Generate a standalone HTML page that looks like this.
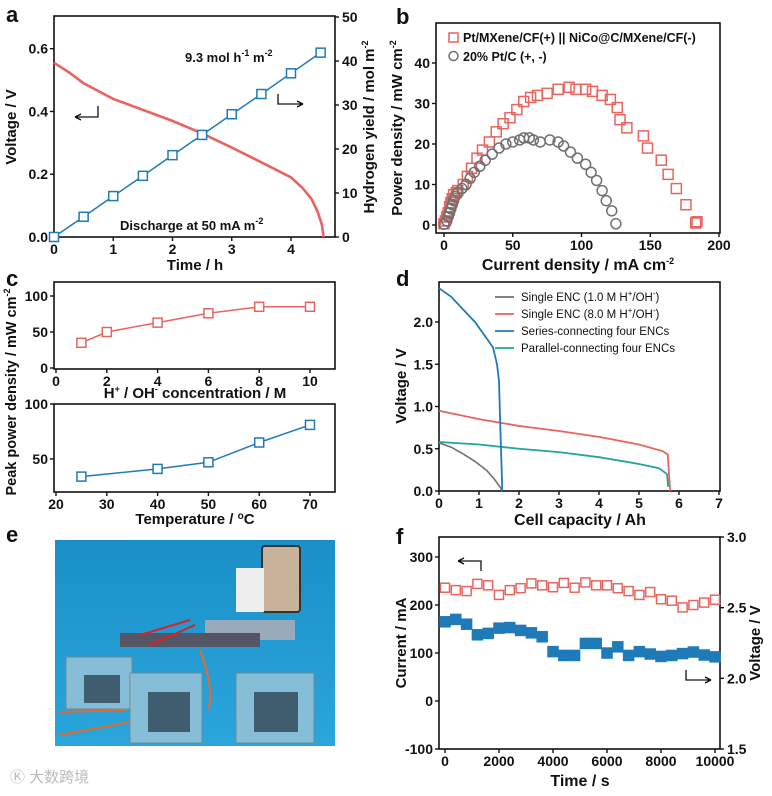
<!DOCTYPE html>
<html><head><meta charset="utf-8"><style>
body{margin:0;background:#fff;}
svg{display:block;font-family:"Liberation Sans",Arial,sans-serif;}
text{font-weight:bold;fill:#111;}
</style></head><body>
<svg id="fig" width="772" height="796" viewBox="0 0 772 796">
<g font-size="22">
<text x="6" y="22">a</text>
<text x="396" y="24">b</text>
<text x="6" y="286">c</text>
<text x="396" y="286">d</text>
<text x="6" y="542">e</text>
<text x="396" y="544">f</text>
</g>
<g>
<defs><linearGradient id="bg" x1="0" y1="0" x2="0" y2="1"><stop offset="0" stop-color="#1a8fc8"/><stop offset="1" stop-color="#2aa6dc"/></linearGradient></defs>
<rect x="55" y="540" width="280" height="206" fill="url(#bg)"/>
<rect x="262" y="546" width="38" height="66" rx="3" fill="#c9b29a" stroke="#333" stroke-width="2"/>
<rect x="236" y="568" width="28" height="44" fill="#eee"/>
<rect x="205" y="620" width="90" height="20" fill="#9ab"/>
<rect x="120" y="633" width="140" height="14" fill="#556"/>
<g fill="#9fc4d6" fill-opacity="0.8" stroke="#6a8a99">
<rect x="66" y="657" width="66" height="52"/>
<rect x="130" y="673" width="72" height="70"/>
<rect x="236" y="673" width="78" height="70"/>
</g>
<g fill="#3e5e70"><rect x="84" y="675" width="36" height="28"/><rect x="148" y="692" width="42" height="40"/><rect x="254" y="692" width="44" height="40"/></g>
<path d="M140 635 L190 620 M150 645 L195 625" stroke="#d22" stroke-width="2"/>
<path d="M200 650 Q215 690 208 710 M60 735 L130 722 M60 712 L125 710" stroke="#e66a2a" stroke-width="2" fill="none"/>
</g>
<text x="10" y="782" font-size="15" style="fill:#bbb;font-weight:normal;font-family:'Liberation Sans','Noto Sans CJK SC',sans-serif">Ⓚ 大数跨境</text>
</svg>
<script>
// ---- panel a data ----
const aTime=[0,0.25,0.5,1,1.5,2,2.5,3,3.5,4,4.2,4.35,4.45,4.52,4.55];
const aVolt=[0.555,0.525,0.49,0.44,0.405,0.37,0.33,0.285,0.238,0.19,0.155,0.12,0.08,0.04,0];
const aYieldT=[0,0.5,1,1.5,2,2.5,3,3.5,4,4.5];
const aYield=[0,4.6,9.3,13.9,18.6,23.2,27.9,32.5,37.2,41.9];
// ---- panel b data ----
const bRedX=[0,1,2,3,4,5,6,7,9,10,14,17,20,24,28,33,38,43,48,53,58,63,68,75,83,91,96,103,108,115,121,126,128,133,145,148,158,163,169,176,183,184];
const bRedY=[0.3,1,2,3,4.5,5.5,6.5,7.5,8,8.5,10,12,14,16.5,18.5,20.5,23,25,26.5,28.5,30.5,31.5,32,32.5,33.5,34,33.5,33.5,33,32,31,29,26,24,22,19,16,12.5,9,5,0.5,0.8];
const bGreyX=[0,2,3,4,5,6,7,8,10,13,16,19,22,26,30,35,40,45,50,55,58,62,65,70,77,83,87,92,97,103,107,111,115,118,122,125];
const bGreyY=[0.2,1,2,3,4,5,6,7,8,9,10,11.5,13,14.5,16,17.5,19,20,20.5,21,21.5,21.5,21,20.5,21,20.5,19.5,18,16.5,15,13,11,8.5,6,3.5,0.3];
// ---- panel c data ----
const cConc=[1,2,4,6,8,10];
const cConcP=[35,50,63,76,85,85];
const cTemp=[25,40,50,60,70];
const cTempP=[34,41,47,65,81];
// ---- panel d data ----
const dGreyX=[0,0.3,0.6,0.9,1.2,1.4,1.55,1.57];
const dGreyY=[0.57,0.52,0.44,0.35,0.24,0.13,0.03,0];
const dRedX=[0,1,2,3,4,5,5.6,5.72,5.75,5.78];
const dRedY=[0.95,0.85,0.77,0.71,0.64,0.55,0.47,0.43,0.2,0];
const dBlueX=[0,0.3,0.6,0.9,1.2,1.35,1.45,1.5,1.53,1.57,1.58];
const dBlueY=[2.4,2.3,2.15,2.0,1.8,1.7,1.5,1.3,0.8,0.2,0];
const dTealX=[0,1,2,3,4,5,5.5,5.7,5.73];
const dTealY=[0.58,0.55,0.5,0.46,0.4,0.32,0.27,0.2,0.05];
// ---- panel f data ----
const fTime=[0,400,800,1200,1600,2000,2400,2800,3200,3600,4000,4400,4800,5200,5600,6000,6400,6800,7200,7600,8000,8400,8800,9200,9600,10000];
const fCurrent=[236,231,229,244,241,221,231,235,245,241,237,246,236,247,241,241,235,229,221,227,212,209,195,200,205,211];
const fVoltage=[2.400,2.417,2.383,2.308,2.318,2.355,2.359,2.339,2.322,2.294,2.189,2.162,2.162,2.247,2.247,2.179,2.223,2.162,2.189,2.172,2.155,2.162,2.175,2.186,2.165,2.152];

const NS='http://www.w3.org/2000/svg';
const svg=document.getElementById('fig');
function mk(tag,attrs,parent,txt){const e=document.createElementNS(NS,tag);for(const k in attrs)e.setAttribute(k,attrs[k]);if(txt!==undefined)e.textContent=txt;(parent||svg).appendChild(e);return e;}
function lin(d0,d1,r0,r1){return v=>r0+(v-d0)*(r1-r0)/(d1-d0);}
function box(x0,y0,x1,y1,name){const r=mk('rect',{x:x0,y:y0,width:x1-x0,height:y1-y0,fill:'none',stroke:'#111','stroke-width':1.6});}
function xticks(vals,sx,y,lab,fs){vals.forEach(v=>{const x=sx(v);const t=mk('line',{x1:x,y1:y,x2:x,y2:y+4,stroke:'#111','stroke-width':1.4});
const l=mk('text',{x:x,y:y+17,'text-anchor':'middle','font-size':fs||14},null,lab?lab(v):v);});}
function yticks(vals,sy,x,side,lab,fs){vals.forEach(v=>{const y=sy(v);const d=side==='r'?4:-4;const t=mk('line',{x1:x,y1:y,x2:x+d,y2:y,stroke:'#111','stroke-width':1.4});
const l=mk('text',{x:side==='r'?x+7:x-6,y:y+5,'text-anchor':side==='r'?'start':'end','font-size':fs||14},null,lab?lab(v):v);});}
function title(x,y,txt,rot,fs){const a={x:x,y:y,'text-anchor':'middle','font-size':fs||15};if(rot)a.transform='rotate(-90 '+x+' '+y+')';const t=mk('text',a);t.innerHTML=txt;return t;}
function line(xs,ys,sx,sy,col,w,name){const p=mk('polyline',{points:xs.map((v,i)=>sx(v)+','+sy(ys[i])).join(' '),fill:'none',stroke:col,'stroke-width':w||1.5});}
function squares(xs,ys,sx,sy,col,s,fill,name){xs.forEach((v,i)=>{const r=mk('rect',{x:sx(v)-s/2,y:sy(ys[i])-s/2,width:s,height:s,fill:fill||'#fff',stroke:col,'stroke-width':1.5});});}
function circles(xs,ys,sx,sy,col,r0,name){xs.forEach((v,i)=>{const c=mk('circle',{cx:sx(v),cy:sy(ys[i]),r:r0,fill:'none',stroke:col,'stroke-width':1.5});});}
function arrow(d,name){const p=mk('path',{d:d,fill:'none',stroke:'#111','stroke-width':1.3});}
const RED='#e8645f',BLUE='#1f7ab8',GREY='#707070',TEAL='#20a5a0';
const sup=s=>'<tspan dy="-6" font-size="9">'+s+'</tspan><tspan dy="6"> </tspan>';

// Panel a
{const sx=lin(0,4,54,291),sy=lin(0,0.6,237,48.7),sr=lin(0,50,237,17);
box(54,16,335,237,'plot-area-a');
xticks([0,1,2,3,4],sx,237);
yticks([0,0.2,0.4,0.6],sy,54,'l',v=>v.toFixed(1));
yticks([0,10,20,30,40,50],sr,335,'r');
line(aTime,aVolt,sx,sy,RED,2.6,'voltage-curve');
line(aYieldT,aYield,sx,sr,BLUE,1.5,'hydrogen-line');
squares(aYieldT,aYield,sx,sr,BLUE,9,'#fff','hydrogen-point');
title(195,270,'Time / h');title(16,127,'Voltage / V',true);
title(374,127,'Hydrogen yield / mol m'+sup('-2'),true);
mk('text',{x:185,y:62,'font-size':13}).innerHTML='9.3 mol h'+sup('-1')+'m'+sup('-2');
mk('text',{x:120,y:230,'font-size':13}).innerHTML='Discharge at 50 mA m'+sup('-2');
arrow('M98 106 V117 H75 M75 117 l6 -3 M75 117 l6 3','arrow-left-a');
arrow('M278 94 V104 H303 M303 104 l-6 -3 M303 104 l-6 3','arrow-right-a');}

// Panel b
{const sx=lin(0,200,444,719),sy=lin(0,40,225,63);
box(436,23,720,233,'plot-area-b');
xticks([0,50,100,150,200],sx,233);
yticks([0,10,20,30,40],sy,436,'l');
squares(bRedX,bRedY,sx,sy,RED,10,'none','pt-mxene-point');
circles(bGreyX,bGreyY,sx,sy,GREY,5,'pt-c-point');
title(578,270,'Current density / mA cm'+sup('-2'),false,16);
title(402,128,'Power density / mW cm'+sup('-2'),true);
mk('rect',{x:449,y:33,width:9,height:9,fill:'none',stroke:RED,'stroke-width':1.5});
mk('text',{x:463,y:42,'font-size':12.5},null,'Pt/MXene/CF(+) || NiCo@C/MXene/CF(-)');
mk('circle',{cx:453.5,cy:56,r:4.5,fill:'none',stroke:GREY,'stroke-width':1.5});
mk('text',{x:463,y:61,'font-size':12.5},null,'20% Pt/C (+, -)');}

// Panel c
{const sx=lin(0,10,56,310),sy=lin(0,100,368,296);
box(54,282,335,369,'plot-area-c-top');
xticks([0,2,4,6,8,10],sx,369);
yticks([0,50,100],sy,54,'l');
line(cConc,cConcP,sx,sy,RED,1.5,'conc-line');squares(cConc,cConcP,sx,sy,RED,9,'#fff','conc-point');
title(195,398,'H'+sup('+')+'/ OH'+sup('-')+'concentration / M');
const tx=lin(20,70,56,310),ty=lin(50,100,459,404);
box(54,404,335,492,'plot-area-c-bottom');
xticks([20,30,40,50,60,70],tx,492);
yticks([50,100],ty,54,'l');
line(cTemp,cTempP,tx,ty,BLUE,1.5,'temp-line');squares(cTemp,cTempP,tx,ty,BLUE,9,'#fff','temp-point');
title(195,524,'Temperature / '+'<tspan dy="-5" font-size="10">o</tspan><tspan dy="5">C</tspan>');
title(16,392,'Peak power density / mW cm'+sup('-2'),true,14.5);}

// Panel d
{const sx=lin(0,7,439,719),sy=lin(0,2,491,322);
box(439,282,720,491,'plot-area-d');
xticks([0,1,2,3,4,5,6,7],sx,491);
yticks([0,0.5,1,1.5,2],sy,439,'l',v=>v.toFixed(1));
line(dGreyX,dGreyY,sx,sy,GREY,1.6,'single-1m-curve');
line(dRedX,dRedY,sx,sy,RED,1.8,'single-8m-curve');
line(dTealX,dTealY,sx,sy,TEAL,1.8,'parallel-curve');
line(dBlueX,dBlueY,sx,sy,BLUE,1.8,'series-curve');
title(580,525,'Cell capacity / Ah',false,16);title(406,386,'Voltage / V',true);
const leg=[['Single ENC (1.0 M H<tspan dy="-5" font-size="8">+</tspan><tspan dy="5">/OH</tspan><tspan dy="-5" font-size="8">-</tspan><tspan dy="5">)</tspan>',GREY],['Single ENC (8.0 M H<tspan dy="-5" font-size="8">+</tspan><tspan dy="5">/OH</tspan><tspan dy="-5" font-size="8">-</tspan><tspan dy="5">)</tspan>',RED],['Series-connecting four ENCs',BLUE],['Parallel-connecting four ENCs',TEAL]];
leg.forEach((l,i)=>{const y=297+i*17;mk('line',{x1:495,y1:y,x2:514,y2:y,stroke:l[1],'stroke-width':1.8});const t=mk('text',{x:521,y:y+4,'font-size':11.5,style:'font-weight:normal'});t.innerHTML=l[0];});}

// Panel f
{const sx=lin(0,10000,445,715),sy=lin(-100,300,749,557),sr=lin(1.5,3,749,537);
box(439,537,720,749,'plot-area-f');
xticks([0,2000,4000,6000,8000,10000],sx,749);
yticks([-100,0,100,200,300],sy,439,'l');
yticks([1.5,2,2.5,3],sr,720,'r',v=>v.toFixed(1));
squares(fTime,fCurrent,sx,sy,RED,9,'#fff','current-point');
squares(fTime,fVoltage,sx,sr,BLUE,10,BLUE,'voltage-point');
title(580,786,'Time / s',false,16);title(406,643,'Current / mA',true);title(760,643,'Voltage / V',true);
arrow('M481 571 V561 H458 M458 561 l6 -3 M458 561 l6 3','arrow-left-f');
arrow('M686 670 V680 H711 M711 680 l-6 -3 M711 680 l-6 3','arrow-right-f');}
</script>
</body></html>
